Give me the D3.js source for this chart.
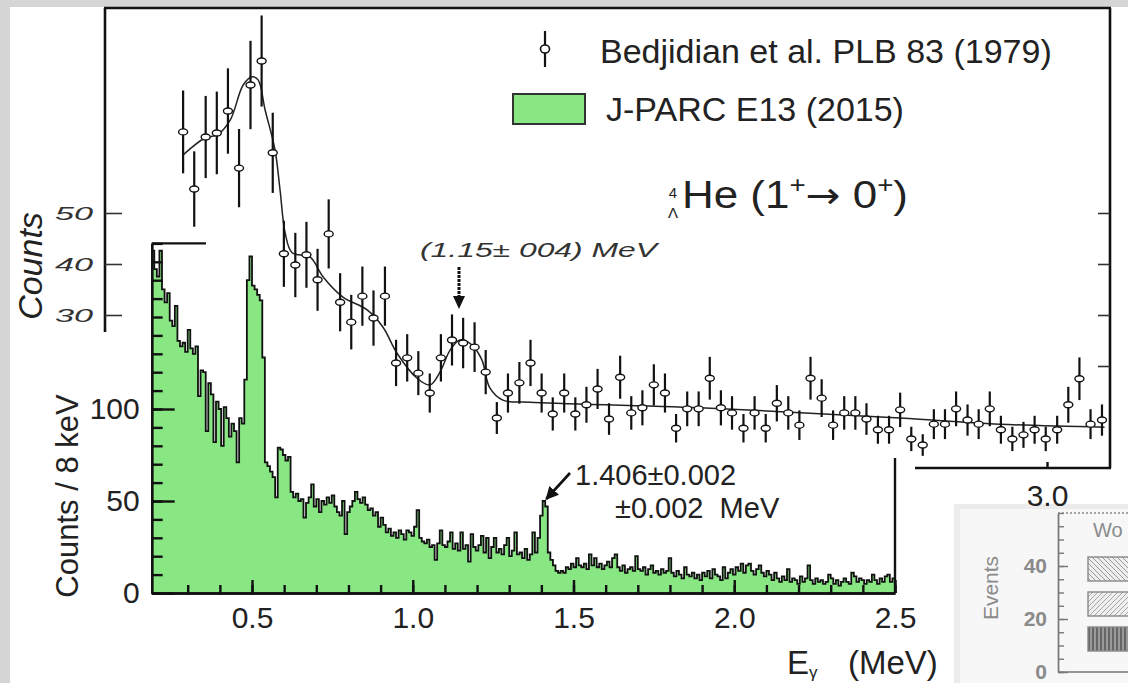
<!DOCTYPE html>
<html>
<head>
<meta charset="utf-8">
<title>4LHe gamma-ray spectrum</title>
<script src="https://cdn.jsdelivr.net/npm/d3@7"></script>
<style>
  body { margin: 0; background: #fff; }
  svg { display: block; font-family: "Liberation Sans", Arial, sans-serif; }
</style>
</head>
<body>
<div class="chart"></div>
<script>
// ---------------- data ----------------

// J-PARC E13 (2015) gamma-ray spectrum, 8 keV bins starting at 0.188 MeV
var e13Start = 0.188;
var e13BinWidth = 0.008;
var e13Counts = [
  186, 176, 172, 186, 165, 158, 163, 148, 145, 156,
  137, 134, 136, 131, 143, 133, 130, 134, 107, 121,
  120, 88, 114, 108, 82, 104, 100, 80, 101, 95,
  85, 92, 88, 71, 95, 92, 116, 170, 183, 167,
  165, 162, 159, 128, 71, 69, 66, 63, 52, 79,
  78, 75, 72, 74, 55, 52, 54, 50, 51, 41,
  49, 52, 59, 47, 51, 44, 50, 48, 52, 49,
  53, 47, 44, 42, 50, 32, 44, 47, 50, 55,
  51, 49, 52, 48, 45, 46, 42, 44, 36, 41,
  37, 33, 35, 31, 33, 30, 34, 32, 29, 34,
  33, 31, 36, 45, 30, 28, 27, 29, 25, 26,
  18, 27, 34, 26, 25, 28, 33, 24, 27, 23,
  33, 24, 26, 17, 32, 25, 23, 26, 31, 22,
  30, 19, 25, 30, 22, 24, 21, 26, 30, 20,
  23, 33, 21, 22, 19, 24, 18, 21, 33, 22,
  30, 42, 50, 47, 22, 18, 15, 12, 11, 12,
  11, 14, 13, 16, 14, 19, 15, 14, 16, 13,
  21, 15, 19, 14, 16, 13, 15, 17, 14, 19,
  21, 14, 12, 15, 11, 13, 14, 12, 20, 13,
  12, 14, 10, 13, 15, 11, 12, 10, 13, 11,
  12, 19, 11, 9, 12, 10, 8, 14, 10, 9,
  11, 8, 10, 7, 11, 9, 12, 8, 13, 10,
  9, 7, 14, 8, 11, 13, 10, 14, 12, 16,
  11, 15, 16, 12, 10, 13, 15, 11, 9, 12,
  10, 7, 11, 8, 6, 9, 7, 13, 6, 8,
  7, 5, 9, 6, 8, 15, 7, 5, 8, 6,
  7, 5, 6, 10, 8, 5, 7, 4, 6, 8,
  6, 5, 11, 9, 6, 8, 7, 5, 7, 6,
  10, 7, 5, 8, 6, 9, 10, 6, 8
];

// Bedjidian et al. PLB 83 (1979) data points
var oldEnergy = [
  0.282, 0.317, 0.353, 0.388, 0.423, 0.458, 0.494, 0.529, 0.564, 0.599,
  0.635, 0.670, 0.705, 0.740, 0.776, 0.811, 0.846, 0.881, 0.917, 0.952,
  0.987, 1.022, 1.058, 1.093, 1.128, 1.163, 1.199, 1.234, 1.269, 1.304,
  1.340, 1.375, 1.410, 1.445, 1.481, 1.516, 1.551, 1.586, 1.622, 1.657,
  1.692, 1.727, 1.763, 1.798, 1.833, 1.868, 1.904, 1.939, 1.974, 2.009,
  2.045, 2.080, 2.115, 2.150, 2.186, 2.221, 2.256, 2.291, 2.327, 2.362,
  2.397, 2.432, 2.468, 2.503, 2.538, 2.573, 2.609, 2.644, 2.679, 2.714,
  2.750, 2.785, 2.820, 2.855, 2.891, 2.926, 2.961, 2.996, 3.032, 3.067,
  3.102, 3.137, 3.173
];
var oldCounts = [
  65.9, 54.7, 64.9, 65.7, 70.0, 58.8, 75.1, 79.8, 61.8, 42.0,
  39.8, 41.8, 36.9, 45.9, 32.5, 28.6, 33.7, 29.4, 33.7, 20.6,
  21.6, 18.6, 14.7, 21.6, 25.1, 24.5, 23.7, 18.8, 9.8, 14.7,
  16.7, 20.6, 14.7, 10.6, 14.7, 10.6, 12.4, 15.5, 9.6, 17.8,
  10.8, 11.8, 16.3, 14.7, 7.8, 11.6, 11.6, 17.6, 11.8, 10.8,
  7.8, 10.8, 7.8, 12.7, 10.8, 8.4, 17.6, 13.7, 8.4, 10.8,
  10.8, 9.6, 7.5, 7.5, 11.4, 5.7, 4.5, 8.6, 8.6, 11.6,
  9.4, 8.6, 11.6, 7.5, 5.7, 6.5, 7.5, 5.7, 7.5, 12.4,
  17.5, 8.6, 9.4
];

// fitted curve drawn through the 1979 data
var fitEnergy = [0.282, 0.351, 0.389, 0.430, 0.471, 0.499, 0.518, 0.540, 0.571, 0.587,
  0.603, 0.625, 0.681, 0.722, 0.785, 0.861, 0.911, 0.955, 1.018, 1.059,
  1.090, 1.122, 1.153, 1.191, 1.222, 1.247, 1.288, 1.373, 1.908, 2.537, 2.851, 3.181];
var fitCounts = [61.4, 64.7, 65.3, 68.2, 75.1, 76.7, 76.1, 70.2, 62.4, 54.5,
  46.1, 42.2, 41.4, 37.5, 33.5, 31.0, 27.6, 22.5, 17.6, 16.3,
  18.8, 23.1, 25.1, 24.1, 21.2, 15.7, 13.3, 12.9, 11.8, 9.8, 8.6, 8.0];

// tick labels
var newYTicks = [0, 50, 100];
var newXTicks = [0.5, 1.0, 1.5, 2.0, 2.5];
var oldYTicks = [30, 40, 50];
var oldXTicks = [3.0];
var insetYTicks = [0, 20, 40];

var legendLabels = ["Bedjidian et al. PLB 83 (1979)", "J-PARC E13 (2015)"];
var e13Peak = 1.406;
var oldPeak = 1.15;

var greenFill = "#88e783";

function makeChart() {

  var svgWidth = 1128;
  var svgHeight = 683;

  var svg = d3.select(".chart")
    .append("svg")
    .attr("width", svgWidth)
    .attr("height", svgHeight);

  // grey page edge, white sheet
  svg.append("rect").attr("width", svgWidth).attr("height", svgHeight).attr("fill", "#d5d5d5");
  svg.append("rect")
    .attr("x", 10).attr("y", 7)
    .attr("width", svgWidth - 10).attr("height", svgHeight - 7)
    .attr("fill", "#fff");

  var defs = svg.append("defs");

  // ---------- corner of a neighbouring figure (drawn first, sits behind) ----------
  var inset = svg.append("g");
  inset.append("rect").attr("x", 954).attr("y", 504).attr("width", 174).attr("height", 179).attr("fill", "#ececec");
  inset.append("rect").attr("x", 960).attr("y", 509).attr("width", 168).attr("height", 174).attr("fill", "#f7f7f7");

  var pat = defs.append("pattern").attr("id", "hatchA").attr("patternUnits", "userSpaceOnUse")
    .attr("width", 5).attr("height", 5);
  pat.append("rect").attr("width", 5).attr("height", 5).attr("fill", "#eeeeee");
  pat.append("path").attr("d", "M0,0L5,5").attr("stroke", "#9a9a9a").attr("stroke-width", 1);

  pat = defs.append("pattern").attr("id", "hatchB").attr("patternUnits", "userSpaceOnUse")
    .attr("width", 5).attr("height", 5);
  pat.append("rect").attr("width", 5).attr("height", 5).attr("fill", "#efefef");
  pat.append("path").attr("d", "M0,5L5,0").attr("stroke", "#a5a5a5").attr("stroke-width", 1);

  pat = defs.append("pattern").attr("id", "hatchC").attr("patternUnits", "userSpaceOnUse")
    .attr("width", 4).attr("height", 4);
  pat.append("rect").attr("width", 4).attr("height", 4).attr("fill", "#9a9a9a");
  pat.append("path").attr("d", "M1,0L1,4").attr("stroke", "#555").attr("stroke-width", 1.5);

  var yInset = d3.scaleLinear().domain([0, 60]).range([672, 513]);
  var insetMinor = inset.append("g")
    .attr("transform", "translate(1058,0)")
    .call(d3.axisLeft(yInset).tickValues(d3.range(0, 61, 5)).tickSize(-6).tickSizeOuter(0).tickFormat(""));
  var insetMajor = inset.append("g")
    .attr("transform", "translate(1058,0)")
    .call(d3.axisLeft(yInset).tickValues(insetYTicks).tickSize(-10).tickSizeOuter(0).tickPadding(11).tickFormat(d3.format("d")));
  [insetMinor, insetMajor].forEach(function(g) {
    g.attr("font-size", 21).attr("font-family", null).attr("font-weight", "bold");
    g.selectAll("path, line").attr("stroke", "#777").attr("stroke-width", 1.4);
    g.selectAll("text").attr("fill", "#8a8a8a");
  });
  inset.append("line").attr("x1", 1058).attr("x2", 1128).attr("y1", 513).attr("y2", 513)
    .attr("stroke", "#888").attr("stroke-width", 1.4).attr("stroke-dasharray", "2,2");
  inset.append("line").attr("x1", 1058).attr("x2", 1128).attr("y1", 672).attr("y2", 672)
    .attr("stroke", "#777").attr("stroke-width", 1.4);

  inset.append("text")
    .attr("transform", "translate(998,588) rotate(-90)")
    .attr("text-anchor", "middle")
    .attr("font-size", 21)
    .attr("fill", "#8a8a8a")
    .text("Events");
  inset.append("text")
    .attr("x", 1093).attr("y", 537)
    .attr("font-size", 20)
    .attr("fill", "#8a8a8a")
    .text("Wo");

  ["hatchA", "hatchB", "hatchC"].forEach(function(id, i) {
    inset.append("rect")
      .attr("x", 1088).attr("y", 557 + i * 35)
      .attr("width", 50).attr("height", 24)
      .attr("fill", `url(#${id})`)
      .attr("stroke", "#888").attr("stroke-width", 1.4);
  });

  // scales: new spectrum (lower) and old spectrum (upper)
  var xNew = d3.scaleLinear().domain([e13Start, 2.5]).range([151.7, 895]);
  var yNew = d3.scaleLinear().domain([0, 190]).range([593, 243.4]);
  var xOld = d3.scaleLinear().domain([1.15, 3.0]).range([459, 1047]);
  var yOld = d3.scaleLinear().domain([0, 50]).range([468, 213]);

  defs.append("marker")
    .attr("id", "arrowhead")
    .attr("viewBox", "0 0 10 10")
    .attr("refX", 9).attr("refY", 5)
    .attr("markerWidth", 5).attr("markerHeight", 5)
    .attr("orient", "auto")
    .append("path")
    .attr("d", "M0,0L10,5L0,10z")
    .attr("fill", "#111");

  // ---------- J-PARC E13 histogram ----------
  var bins = e13Counts.map(function(c, i) {
    return { e: e13Start + i * e13BinWidth, c: c };
  });
  bins.push({ e: e13Start + e13Counts.length * e13BinWidth, c: e13Counts[e13Counts.length - 1] });

  var histArea = d3.area()
    .x(d => xNew(d.e))
    .y0(yNew(0))
    .y1(d => yNew(d.c))
    .curve(d3.curveStepAfter);

  var histLine = d3.line()
    .x(d => xNew(d.e))
    .y(d => yNew(d.c))
    .curve(d3.curveStepAfter);

  svg.append("path")
    .datum(bins)
    .attr("d", histArea)
    .attr("fill", greenFill);

  svg.append("path")
    .datum(bins)
    .attr("d", histLine)
    .attr("fill", "none")
    .attr("stroke", "#111")
    .attr("stroke-width", 1.8);

  // axes of the new spectrum (ticks point inwards)
  var yMinor = svg.append("g")
    .attr("transform", `translate(${xNew(e13Start)},0)`)
    .call(d3.axisLeft(yNew).tickValues(d3.range(0, 191, 10)).tickSize(-11).tickSizeOuter(0).tickFormat(""));
  var yMajor = svg.append("g")
    .attr("transform", `translate(${xNew(e13Start)},0)`)
    .call(d3.axisLeft(yNew).tickValues(newYTicks).tickSize(-23).tickSizeOuter(0).tickPadding(12).tickFormat(d3.format("d")));

  var xMinor = svg.append("g")
    .attr("transform", `translate(0,${yNew(0)})`)
    .call(d3.axisBottom(xNew).tickValues(d3.range(3, 26).map(d => d / 10)).tickSize(-8).tickSizeOuter(0).tickFormat(""));
  var xMajor = svg.append("g")
    .attr("transform", `translate(0,${yNew(0)})`)
    .call(d3.axisBottom(xNew).tickValues(newXTicks).tickSize(-13).tickSizeOuter(0).tickPadding(14).tickFormat(d3.format(".1f")));

  [yMinor, yMajor, xMinor, xMajor].forEach(function(g) {
    g.attr("font-size", 30).attr("font-family", null);
    g.selectAll("path, line").attr("stroke", "#111").attr("stroke-width", 2.4);
    g.selectAll("text").attr("fill", "#222");
  });

  // pieces of the frame: top cap and right edge
  svg.append("line")
    .attr("x1", xNew(e13Start)).attr("x2", 206)
    .attr("y1", yNew(190)).attr("y2", yNew(190))
    .attr("stroke", "#111").attr("stroke-width", 2.4);
  svg.append("line")
    .attr("x1", xNew(2.5)).attr("x2", xNew(2.5))
    .attr("y1", 458).attr("y2", yNew(0))
    .attr("stroke", "#111").attr("stroke-width", 2.4);

  // axis titles of the new spectrum
  svg.append("text")
    .attr("transform", "translate(78,496) rotate(-90)")
    .attr("text-anchor", "middle")
    .attr("font-size", 31)
    .attr("fill", "#222")
    .text("Counts / 8 keV");

  var eLabel = svg.append("text").attr("y", 674).attr("font-size", 33).attr("fill", "#222");
  eLabel.append("tspan").attr("x", 787).text("E");
  eLabel.append("tspan").attr("font-size", 17).attr("dy", 4).text("γ");
  eLabel.append("tspan").attr("x", 848).attr("dy", -4).text("(MeV)");

  // peak annotation of the new data
  var peakBin = Math.floor((e13Peak - e13Start) / e13BinWidth);
  svg.append("path")
    .attr("d", `M570,473L${xNew(e13Peak) + 3},${yNew(e13Counts[peakBin]) - 2}`)
    .attr("stroke", "#111")
    .attr("stroke-width", 2.6)
    .attr("marker-end", "url(#arrowhead)");

  svg.append("text")
    .attr("x", 575).attr("y", 485)
    .attr("font-size", 29).attr("fill", "#222")
    .text("1.406±0.002");
  svg.append("text")
    .attr("x", 615).attr("y", 518)
    .attr("font-size", 29).attr("fill", "#222")
    .attr("xml:space", "preserve")
    .text("±0.002  MeV");

  // ---------- Bedjidian et al. (1979) ----------
  var oldFrame = svg.append("g").attr("stroke", "#111").attr("stroke-width", 2.6);
  oldFrame.append("line").attr("x1", 105).attr("x2", 105).attr("y1", 8).attr("y2", 332);
  oldFrame.append("line").attr("x1", 104).attr("x2", 1111).attr("y1", 8).attr("y2", 8);
  oldFrame.append("line").attr("x1", 1110).attr("x2", 1110).attr("y1", 8).attr("y2", yOld(0));
  oldFrame.append("line").attr("x1", 915).attr("x2", 1111).attr("y1", yOld(0)).attr("y2", yOld(0));

  var oldLeft = svg.append("g")
    .attr("transform", "translate(105,0)")
    .call(d3.axisLeft(yOld).tickValues(oldYTicks).tickSize(-17).tickPadding(12).tickFormat(d3.format("d")));
  oldLeft.select(".domain").remove();
  oldLeft.selectAll("line").attr("stroke", "#333").attr("stroke-width", 1.6);
  oldLeft.selectAll("text")
    .attr("font-size", 19)
    .attr("font-style", "italic")
    .attr("fill", "#333")
    .attr("textLength", 38)
    .attr("lengthAdjust", "spacingAndGlyphs");

  var oldRight = svg.append("g")
    .attr("transform", "translate(1110,0)")
    .call(d3.axisRight(yOld).tickValues([20, 30, 40, 50]).tickSize(-12).tickFormat(""));
  oldRight.select(".domain").remove();
  oldRight.selectAll("line").attr("stroke", "#333").attr("stroke-width", 1.6);

  var oldBottom = svg.append("g")
    .attr("transform", `translate(0,${yOld(0)})`)
    .call(d3.axisBottom(xOld).tickValues(oldXTicks).tickSize(-6).tickPadding(17).tickFormat(d3.format(".1f")));
  oldBottom.select(".domain").remove();
  oldBottom.attr("font-size", 30).attr("font-family", null);
  oldBottom.selectAll("line").attr("stroke", "#111").attr("stroke-width", 2.4);
  oldBottom.selectAll("text").attr("fill", "#222");

  svg.append("text")
    .attr("transform", "translate(42,266) rotate(-90)")
    .attr("text-anchor", "middle")
    .attr("font-size", 34)
    .attr("font-style", "italic")
    .attr("fill", "#222")
    .text("Counts");

  // fit curve
  var fitLine = d3.line()
    .x((d, i) => xOld(fitEnergy[i]))
    .y(d => yOld(d))
    .curve(d3.curveCatmullRom.alpha(0.5));

  svg.append("path")
    .datum(fitCounts)
    .attr("d", fitLine)
    .attr("fill", "none")
    .attr("stroke", "#222")
    .attr("stroke-width", 1.5);

  // data points with Poisson error bars
  var points = svg.append("g").selectAll("g")
    .data(oldCounts)
    .enter()
    .append("g")
    .attr("transform", (d, i) => `translate(${xOld(oldEnergy[i])},0)`);

  points.append("line")
    .attr("y1", d => yOld(d + Math.sqrt(d)))
    .attr("y2", d => yOld(d - Math.sqrt(d)))
    .attr("stroke", "#111")
    .attr("stroke-width", 2.2);

  points.append("ellipse")
    .attr("cy", d => yOld(d))
    .attr("rx", 4.5)
    .attr("ry", 3)
    .attr("fill", "#fff")
    .attr("stroke", "#111")
    .attr("stroke-width", 1.4);

  // arrow and label for the old peak
  var xp = xOld(oldPeak);
  svg.append("line")
    .attr("x1", xp).attr("x2", xp)
    .attr("y1", 267).attr("y2", 298)
    .attr("stroke", "#111").attr("stroke-width", 3)
    .attr("stroke-dasharray", "3,1");
  svg.append("path")
    .attr("d", `M${xp - 6},296L${xp + 6},296L${xp},309Z`)
    .attr("fill", "#111");

  svg.append("text")
    .attr("x", 420).attr("y", 257)
    .attr("font-size", 20)
    .attr("font-style", "italic")
    .attr("fill", "#333")
    .attr("textLength", 237)
    .attr("lengthAdjust", "spacingAndGlyphs")
    .text("(1.15± 004) MeV");

  // ---------- legend ----------
  var legend = svg.append("g");
  legend.append("line")
    .attr("x1", 545).attr("x2", 545).attr("y1", 31).attr("y2", 67)
    .attr("stroke", "#111").attr("stroke-width", 2.2);
  legend.append("ellipse")
    .attr("cx", 545).attr("cy", 49).attr("rx", 4.5).attr("ry", 4)
    .attr("fill", "#fff").attr("stroke", "#111").attr("stroke-width", 1.6);
  legend.append("rect")
    .attr("x", 513).attr("y", 94).attr("width", 72).attr("height", 30)
    .attr("fill", greenFill).attr("stroke", "#333").attr("stroke-width", 2);

  legend.selectAll("text.leg")
    .data(legendLabels)
    .enter()
    .append("text")
    .attr("class", "leg")
    .attr("x", (d, i) => i === 0 ? 600 : 606)
    .attr("y", (d, i) => i === 0 ? 63 : 121)
    .attr("font-size", 34)
    .attr("fill", "#222")
    .text(d => d);

  // hypernucleus label: mass number over the Lambda, then the transition
  svg.append("text").attr("x", 673).attr("y", 198)
    .attr("font-size", 15).attr("fill", "#222").attr("text-anchor", "middle").text("4");
  svg.append("text").attr("x", 673).attr("y", 218)
    .attr("font-size", 15).attr("fill", "#222").attr("text-anchor", "middle").text("Λ");

  var hyp = svg.append("text")
    .attr("x", 682).attr("y", 208)
    .attr("font-size", 38).attr("fill", "#222")
    .attr("textLength", 226)
    .attr("lengthAdjust", "spacingAndGlyphs");
  hyp.append("tspan").text("He (1");
  hyp.append("tspan").attr("font-size", 24).attr("dy", -15).text("+");
  hyp.append("tspan").attr("dy", 15).attr("font-family", "DejaVu Sans").attr("font-size", 36).text("→");
  hyp.append("tspan").text(" 0");
  hyp.append("tspan").attr("font-size", 24).attr("dy", -15).text("+");
  hyp.append("tspan").attr("dy", 15).text(")");
}

makeChart();
</script>
</body>
</html>
